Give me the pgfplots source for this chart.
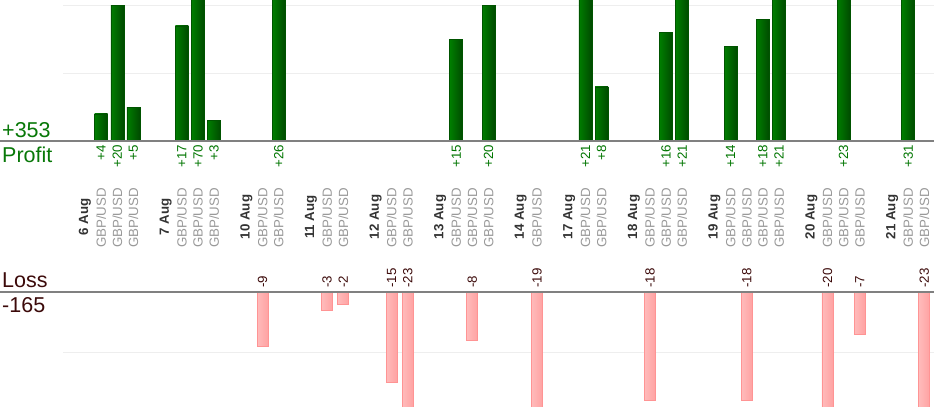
\documentclass[border=0pt]{standalone}
\usepackage{pgfplots}
\pgfplotsset{compat=1.18}
\usepackage{fontspec}
\setmainfont{Liberation Sans}
\definecolor{pgreen}{HTML}{087808}
\definecolor{lgreen}{HTML}{007500}
\definecolor{lossc}{HTML}{3C0A0A}
\definecolor{barL}{HTML}{007E00}
\definecolor{barR}{HTML}{004A00}
\definecolor{barD}{HTML}{005400}
\definecolor{pinkL}{HTML}{FFBBBB}
\definecolor{pinkR}{HTML}{FFA2A2}
\definecolor{pinkD}{HTML}{FF9494}
\definecolor{gridc}{HTML}{EEEEEE}
\definecolor{basec}{HTML}{808080}
\definecolor{datec}{HTML}{333333}
\definecolor{pairc}{HTML}{999999}
\newcommand{\lbl}{\fontsize{13.3}{16}\selectfont}
\newcommand{\bigfont}{\fontsize{21.5}{25}\selectfont}
\pgfplotsset{page axis/.style={at={(0,0)}, anchor=south west,
  scale only axis, width=934pt, height=420pt,
  xmin=-5.266, xmax=52.60, hide axis},
  pbar/.style={ybar, bar width=13pt, bar shift=0pt, draw=barD, line width=0.5pt, left color=barL, right color=barR},
  lbar/.style={ybar, bar width=11pt, bar shift=0pt, draw=pinkD, line width=0.8pt, left color=pinkL, right color=pinkR}}
\begin{document}
\begin{tikzpicture}[x=1pt,y=1pt]
\path[use as bounding box] (0,0) rectangle (934,420);
% ---------- profit axis (y=0 at 279pt from bottom, 6.77pt per unit) ----------
\begin{axis}[page axis, ymin=-41.211, ymax=20.827]
\addplot[gridc, line width=1pt] coordinates {(-1.363,10) (52.6,10)};
\addplot[gridc, line width=1pt] coordinates {(-1.363,20) (52.6,20)};
\addplot[pbar] coordinates {(1,4)};
\addplot[pbar] coordinates {(2,20)};
\addplot[pbar] coordinates {(3,5)};
\addplot[pbar] coordinates {(6,17)};
\addplot[pbar] coordinates {(7,70)};
\addplot[pbar] coordinates {(8,3)};
\addplot[pbar] coordinates {(12,26)};
\addplot[pbar] coordinates {(23,15)};
\addplot[pbar] coordinates {(25,20)};
\addplot[pbar] coordinates {(31,21)};
\addplot[pbar] coordinates {(32,8)};
\addplot[pbar] coordinates {(36,16)};
\addplot[pbar] coordinates {(37,21)};
\addplot[pbar] coordinates {(40,14)};
\addplot[pbar] coordinates {(42,18)};
\addplot[pbar] coordinates {(43,21)};
\addplot[pbar] coordinates {(47,23)};
\addplot[pbar] coordinates {(51,31)};
\end{axis}
% ---------- loss axis (y=0 at 128pt from bottom, 6.05pt per unit) ----------
\begin{axis}[page axis, ymin=-21.157, ymax=48.264]
\addplot[gridc, line width=1pt] coordinates {(-1.363,-10) (52.6,-10)};
\addplot[lbar] coordinates {(11,-9)};
\addplot[lbar] coordinates {(15,-3)};
\addplot[lbar] coordinates {(16,-2)};
\addplot[lbar] coordinates {(19,-15)};
\addplot[lbar] coordinates {(20,-23)};
\addplot[lbar] coordinates {(24,-8)};
\addplot[lbar] coordinates {(28,-19)};
\addplot[lbar] coordinates {(35,-18)};
\addplot[lbar] coordinates {(41,-18)};
\addplot[lbar] coordinates {(46,-20)};
\addplot[lbar] coordinates {(48,-7)};
\addplot[lbar] coordinates {(52,-23)};
\end{axis}
\fill[white] (0,0) rectangle (934,13);
% ---------- labels axis ----------
\begin{axis}[page axis, ymin=0, ymax=420, clip=false]
\addplot[basec, line width=1.2pt] coordinates {(-5.266,279) (52.6,279)};
\addplot[basec, line width=1.2pt] coordinates {(-5.266,128) (52.6,128)};
% profit values
\addplot[draw=none, mark=none, point meta=explicit symbolic,
  nodes near coords={\pgfplotspointmeta},
  nodes near coords style={rotate=90, anchor=east, inner sep=0pt, text=lgreen, font=\lbl}]
  coordinates {(1,275)[+4] (2,275)[+20] (3,275)[+5] (6,275)[+17] (7,275)[+70] (8,275)[+3]
               (12,275)[+26] (23,275)[+15] (25,275)[+20] (31,275)[+21] (32,275)[+8]
               (36,275)[+16] (37,275)[+21] (40,275)[+14] (42,275)[+18] (43,275)[+21]
               (47,275)[+23] (51,275)[+31]};
% loss values
\addplot[draw=none, mark=none, point meta=explicit symbolic,
  nodes near coords={\pgfplotspointmeta},
  nodes near coords style={rotate=90, anchor=west, inner sep=0pt, text=lossc, font=\lbl}]
  coordinates {(11,132)[-9] (15,132)[-3] (16,132)[-2] (19,132)[-15] (20,132)[-23]
               (24,132)[-8] (28,132)[-19] (35,132)[-18] (41,132)[-18] (46,132)[-20]
               (48,132)[-7] (52,132)[-23]};
% dates
\addplot[draw=none, mark=none, point meta=explicit symbolic,
  nodes near coords={\pgfplotspointmeta},
  nodes near coords style={rotate=90, anchor=center, inner sep=0pt, text=datec, font=\lbl\bfseries}]
  coordinates {(0,203)[6 Aug] (5,203)[7 Aug] (10,203)[10 Aug] (14,203)[11 Aug]
               (18,203)[12 Aug] (22,203)[13 Aug] (27,203)[14 Aug] (30,203)[17 Aug]
               (34,203)[18 Aug] (39,203)[19 Aug] (45,203)[20 Aug] (50,203)[21 Aug]};
% pairs
\addplot[draw=none, mark=none, point meta=explicit symbolic,
  nodes near coords={\pgfplotspointmeta},
  nodes near coords style={rotate=90, anchor=center, inner sep=0pt, text=pairc, font=\lbl}]
  coordinates {(1,202)[GBP/USD] (2,202)[GBP/USD] (3,202)[GBP/USD]
               (6,202)[GBP/USD] (7,202)[GBP/USD] (8,202)[GBP/USD]
               (11,202)[GBP/USD] (12,202)[GBP/USD]
               (15,202)[GBP/USD] (16,202)[GBP/USD]
               (19,202)[GBP/USD] (20,202)[GBP/USD]
               (23,202)[GBP/USD] (24,202)[GBP/USD] (25,202)[GBP/USD]
               (28,202)[GBP/USD]
               (31,202)[GBP/USD] (32,202)[GBP/USD]
               (35,202)[GBP/USD] (36,202)[GBP/USD] (37,202)[GBP/USD]
               (40,202)[GBP/USD] (41,202)[GBP/USD] (42,202)[GBP/USD] (43,202)[GBP/USD]
               (46,202)[GBP/USD] (47,202)[GBP/USD] (48,202)[GBP/USD]
               (51,202)[GBP/USD] (52,202)[GBP/USD]};
\end{axis}
% ---------- side texts ----------
\node[anchor=base west, inner sep=0pt, text=pgreen, font=\bigfont] at (2,282.7) {+353};
\node[anchor=base west, inner sep=0pt, text=pgreen, font=\bigfont] at (2,257.3) {Profit};
\node[anchor=base west, inner sep=0pt, text=lossc, font=\bigfont] at (2,132.5) {Loss};
\node[anchor=base west, inner sep=0pt, text=lossc, font=\bigfont] at (2,107) {-165};
\end{tikzpicture}
\end{document}
